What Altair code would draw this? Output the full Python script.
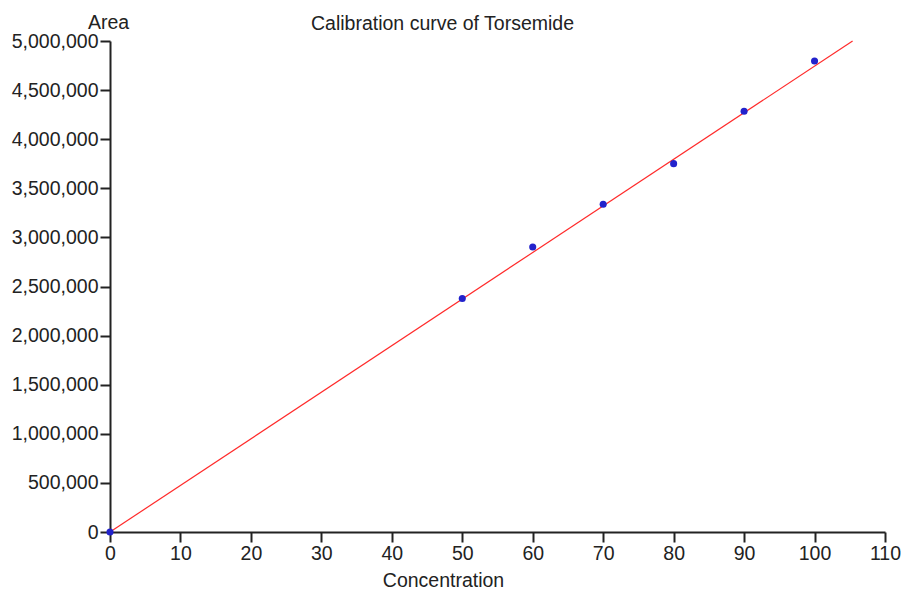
import altair as alt
import pandas as pd

# Data
concentration = [0, 50, 60, 70, 80, 90, 100]
area = [0, 2377000, 2902000, 3337000, 3751000, 4284000, 4796000]

# Regression line end points
fit_x = [0, 105.4]
fit_y = [0, 5000000]

x_ticks = list(range(0, 111, 10))
y_ticks = list(range(0, 5000001, 500000))

pts = pd.DataFrame({"Concentration": concentration, "Area": area})
fit = pd.DataFrame({"Concentration": fit_x, "Area": fit_y})

FONT = "Liberation Sans"
FS = 19.5
TXT = "#222222"

xscale = alt.Scale(domain=[0, 110], nice=False, zero=True)
yscale = alt.Scale(domain=[0, 5000000], nice=False, zero=True)

xaxis = alt.Axis(
    values=x_ticks, grid=False, title="Concentration", format="d",
    titleX=333, titleY=54, titleBaseline="alphabetic", titleAlign="center",
    titleFont=FONT, titleFontSize=FS, titleFontWeight="normal", titleColor=TXT,
    labelFont=FONT, labelFontSize=FS, labelColor=TXT, labelPadding=2,
    tickSize=10, tickColor="#222222", tickWidth=2,
    domainColor="#222222", domainWidth=2, labelFlush=False,
)
yaxis = alt.Axis(
    values=y_ticks, grid=False, format=",.0f", title="Area",
    titleAngle=0, titleX=-2, titleY=-13, titleBaseline="alphabetic", titleAlign="center",
    titleFont=FONT, titleFontSize=FS, titleFontWeight="normal", titleColor=TXT,
    labelFont=FONT, labelFontSize=FS, labelColor=TXT, labelPadding=2,
    tickSize=10, tickColor="#222222", tickWidth=2,
    domainColor="#222222", domainWidth=2, labelFlush=False,
)

line = alt.Chart(fit).mark_line(color="#ff2a2a", strokeWidth=1.2).encode(
    x=alt.X("Concentration:Q", scale=xscale, axis=xaxis),
    y=alt.Y("Area:Q", scale=yscale, axis=yaxis),
)
points = alt.Chart(pts).mark_circle(color="#2222cc", size=50, opacity=1).encode(
    x=alt.X("Concentration:Q", scale=xscale, axis=xaxis),
    y=alt.Y("Area:Q", scale=yscale, axis=yaxis),
)

chart = (line + points).properties(
    width=775, height=491,
    title=alt.TitleParams(
        "Calibration curve of Torsemide", font=FONT, fontSize=FS,
        fontWeight="normal", color=TXT, anchor="middle", dx=-55, offset=-37,
        baseline="alphabetic",
    ),
    autosize=alt.AutoSizeParams(type="none"),
    padding={"left": 110, "top": 41, "right": 16, "bottom": 57},
    background="white",
).configure_view(stroke=None)

chart.save("out.html", embed_options={"renderer": "svg", "actions": False})
